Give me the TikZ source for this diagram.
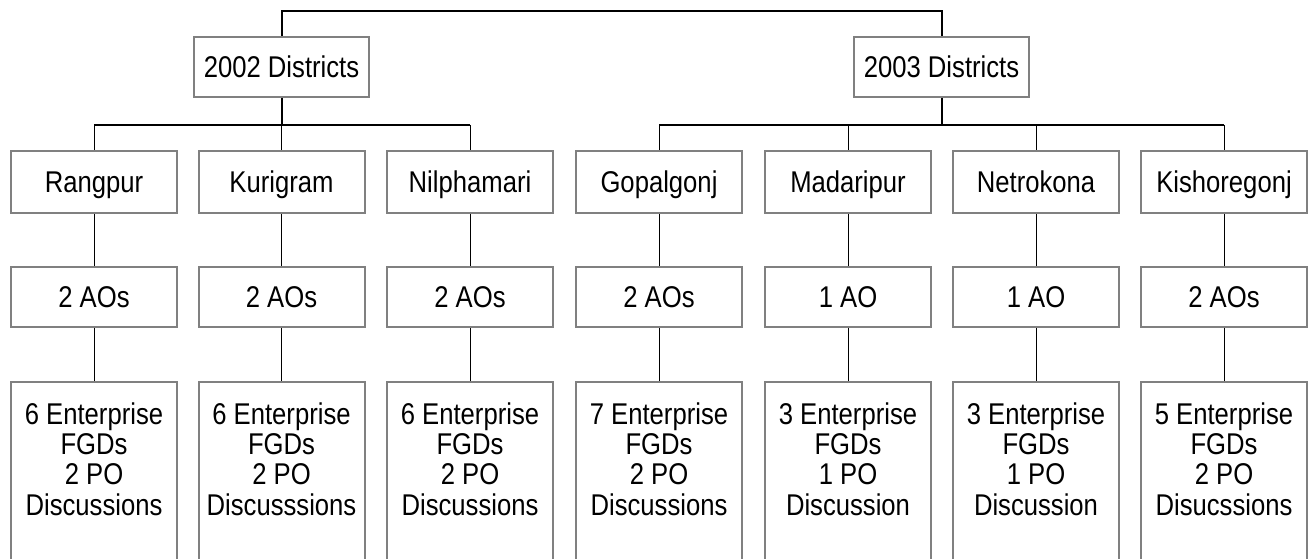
\documentclass[tikz,border=0pt]{standalone}
\usepackage{fontspec}
\setmainfont{Liberation Sans}[FakeStretch=0.855]
\begin{document}
\begin{tikzpicture}[x=1pt,y=-1pt,
  box/.style={draw=boxgray, line width=2pt, fill=white, inner sep=0pt,
    minimum width=166pt, text height=21.5pt, text depth=0pt,
    font=\fontsize{30}{30.2}\selectfont},
  distbox/.style={box, minimum width=175pt, minimum height=60pt},
  townbox/.style={box, minimum height=62pt},
  aobox/.style={box, minimum height=60pt},
  leafbox/.style={box, minimum height=220pt, anchor=north},
  leaftext/.style={inner sep=0pt, anchor=north, align=center,
    font=\fontsize{30}{30.2}\selectfont},
  link/.style={draw=black, line width=1pt},
  trunk/.style={draw=black, line width=2pt},
]
\definecolor{boxgray}{HTML}{808080}
\useasboundingbox (0,0) rectangle (1316,559);
\clip (0,0) rectangle (1316,559);

% year groups
\node[distbox] (d02) at (281.5,67) {2002 Districts};
\node[distbox] (d03) at (941.5,67) {2003 Districts};
\coordinate (top) at (611,11);
\coordinate (bus02) at (281.5,125);
\coordinate (bus03) at (941.5,125);

% districts, officers and discussion counts
\foreach \n/\x/\name/\ao/\ent/\po/\disc in {
  1/94/Rangpur/2 AOs/6/2/Discussions,
  2/281.5/Kurigram/2 AOs/6/2/Discusssions,
  3/470/Nilphamari/2 AOs/6/2/Discussions,
  4/659/Gopalgonj/2 AOs/7/2/Discussions,
  5/848/Madaripur/1 AO/3/1/Discussion,
  6/1036/Netrokona/1 AO/3/1/Discussion,
  7/1224/Kishoregonj/2 AOs/5/2/Disucssions}{
  \node[townbox] (t\n) at (\x,182) {\name};
  \node[aobox] (a\n) at (\x,297) {\ao};
  \node[leafbox] (e\n) at (\x,381) {};
  \node[leaftext] (f\n) at (\x,402.5) {\ent{} Enterprise\\FGDs\\\po{} PO\\\disc};
  \draw[link] (t\n.south) -- (a\n.north);
  \draw[link] (a\n.south) -- (e\n.north);
}

% top-level bracket
\draw[trunk] (d02.north) |- (top) -| (d03.north);

% 2002 branch
\draw[trunk] (d02.south) -- (bus02);
\draw[trunk] (t1.north |- bus02) -- (t3.north |- bus02);
\foreach \n in {1,2,3}{
  \draw[link] (t\n.north |- bus02) -- (t\n.north);
}

% 2003 branch
\draw[trunk] (d03.south) -- (bus03);
\draw[trunk] (t4.north |- bus03) -- (t7.north |- bus03);
\foreach \n in {4,5,6,7}{
  \draw[link] (t\n.north |- bus03) -- (t\n.north);
}
\end{tikzpicture}
\end{document}
